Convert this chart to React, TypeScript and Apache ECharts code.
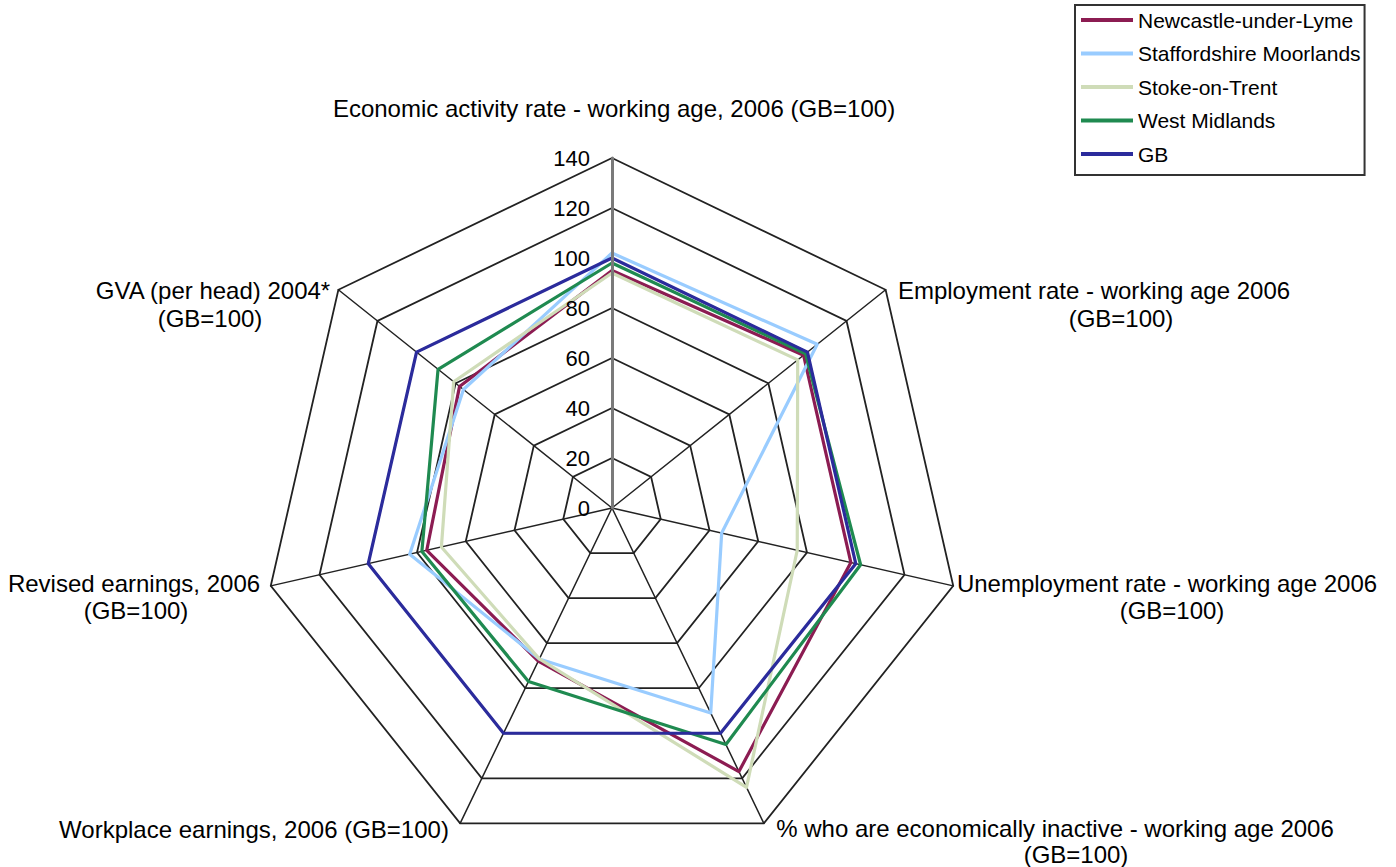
import React, { useEffect, useRef } from "react";
import * as echarts from "echarts";

// Indicators listed in ECharts' radar order (counter-clockwise from the top).
const indicatorNames = [
  "Economic activity rate - working age, 2006 (GB=100)",
  "GVA (per head) 2004* (GB=100)",
  "Revised earnings, 2006 (GB=100)",
  "Workplace earnings, 2006 (GB=100)",
  "% who are economically inactive - working age 2006 (GB=100)",
  "Unemployment rate - working age 2006 (GB=100)",
  "Employment rate - working age 2006 (GB=100)",
];

const seriesNames = [
  "Newcastle-under-Lyme",
  "Staffordshire Moorlands",
  "Stoke-on-Trent",
  "West Midlands",
  "GB",
];

const newcastle = [95, 78, 76, 68, 117, 98, 98];
const staffordshire = [102, 76, 83, 67, 91, 45, 105];
const stoke = [94, 81, 70, 67, 124, 76, 95];
const westMidlands = [98, 89, 78, 77, 105, 102, 99];
const gb = [100, 100, 100, 100, 100, 100, 100];

const seriesColors = ["#8c1c52", "#99ccff", "#cfdcb8", "#1f8a50", "#2b2b9c"];

const scaleMax = 140;
const scaleStep = 20;

const FONT = "'Liberation Sans', Arial, Helvetica, sans-serif";

// Axis titles drawn around the web, one entry per text line.
const axisTitleLines: { text: string; x: number; y: number }[] = [
  { text: "Economic activity rate - working age, 2006 (GB=100)", x: 614, y: 108 },
  { text: "Employment rate - working age 2006", x: 1094, y: 290 },
  { text: "(GB=100)", x: 1121, y: 318 },
  { text: "Unemployment rate - working age 2006", x: 1167, y: 583 },
  { text: "(GB=100)", x: 1172, y: 610 },
  { text: "% who are economically inactive - working age 2006", x: 1055, y: 828 },
  { text: "(GB=100)", x: 1076, y: 854 },
  { text: "Workplace earnings, 2006 (GB=100)", x: 254, y: 829 },
  { text: "Revised earnings, 2006", x: 134, y: 583 },
  { text: "(GB=100)", x: 136, y: 610 },
  { text: "GVA (per head) 2004*", x: 213, y: 290 },
  { text: "(GB=100)", x: 210, y: 318 },
];

const CENTER: [number, number] = [612, 508];
const RADIUS = 350;

export default function App() {
  const ref = useRef<HTMLDivElement>(null);

  useEffect(() => {
    if (!ref.current) return;
    const chart = echarts.init(ref.current, undefined, { renderer: "svg" });

    const values = [newcastle, staffordshire, stoke, westMidlands, gb];

    chart.setOption({
      animation: false,
      backgroundColor: "#ffffff",
      textStyle: { fontFamily: FONT },
      legend: {
        orient: "vertical",
        left: 1075,
        top: 5,
        padding: [3, 4, 9, 6],
        borderColor: "#333333",
        borderWidth: 2,
        itemWidth: 52,
        itemHeight: 4,
        itemGap: 9.5,
        icon: "rect",
        data: seriesNames,
        textStyle: { fontSize: 21, color: "#000", lineHeight: 24, fontFamily: FONT },
      },
      radar: {
        center: CENTER,
        radius: RADIUS,
        startAngle: 90,
        shape: "polygon",
        splitNumber: scaleMax / scaleStep,
        indicator: indicatorNames.map((name) => ({ name, min: 0, max: scaleMax })),
        axisName: { show: false },
        axisLine: { lineStyle: { color: "#222", width: 1.5 } },
        splitLine: { lineStyle: { color: "#222", width: 1.8 } },
        splitArea: { show: false },
      },
      // Value scale along the top spoke.
      grid: { left: CENTER[0], top: CENTER[1] - RADIUS, width: 1, height: RADIUS },
      xAxis: { type: "value", show: false, min: 0, max: 1 },
      yAxis: {
        type: "value",
        min: 0,
        max: scaleMax,
        interval: scaleStep,
        z: 5,
        axisLine: { show: true, onZero: false, lineStyle: { color: "#7a7a7a", width: 3 } },
        axisTick: { show: false },
        splitLine: { show: false },
        axisLabel: {
          fontSize: 22,
          color: "#000",
          margin: 22,
          fontFamily: FONT,
          padding: [0, 0, 5, 0],
        },
      },
      series: [
        {
          type: "radar",
          symbol: "none",
          z: 3,
          data: seriesNames.map((name, i) => ({
            name,
            value: values[i],
            lineStyle: { color: seriesColors[i], width: 3.2 },
            itemStyle: { color: seriesColors[i] },
          })),
        },
      ],
      graphic: axisTitleLines.map((l) => ({
        type: "text",
        x: l.x,
        y: l.y,
        z: 10,
        style: {
          text: l.text,
          fill: "#000",
          font: `24px ${FONT}`,
          textAlign: "center",
          textVerticalAlign: "middle",
        },
      })),
    });

    return () => chart.dispose();
  }, []);

  return (
    <div
      ref={ref}
      style={{ position: "fixed", left: 0, top: 0, width: 1396, height: 867 }}
    />
  );
}
